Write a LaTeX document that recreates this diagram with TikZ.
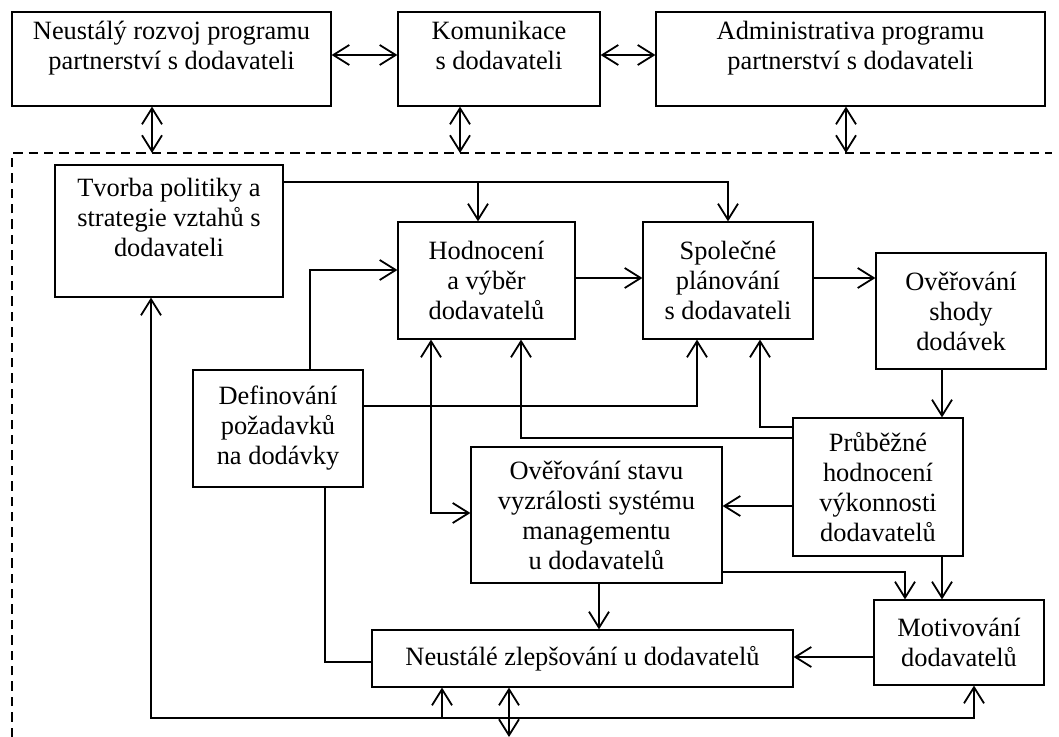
\documentclass[tikz,border=0pt]{standalone}
\usepackage{fontspec}
\setmainfont{Liberation Serif}
\usetikzlibrary{arrows.meta}
\newcommand{\toptext}[1]{\raisebox{2pt}[0pt][0pt]{\begin{tabular}{@{}c@{}}#1\end{tabular}}}

\begin{document}
\begin{tikzpicture}[
    x=0.5pt, y=-0.5pt,
    font=\fontsize{13.2}{15}\selectfont,
    box/.style 2 args={draw, line width=0.6pt, minimum width=#1, minimum height=#2, align=center, inner sep=2pt},
    arrow/.style={-{Straight Barb[length=8pt, width=10pt]}, line width=0.9pt},
    dblarrow/.style={{Straight Barb[length=8pt, width=10pt]}-{Straight Barb[length=8pt, width=10pt]}, line width=0.9pt},
    link/.style={line width=0.9pt},
    frame/.style={dash pattern=on 4.7pt off 3pt, line width=0.7pt}
]
    \useasboundingbox (0,0) rectangle (1059,737);

    % Program level
    \node[box={159.5pt}{47pt}] (rozvoj) at (171.5,59) {\toptext{Neustálý rozvoj programu\\partnerství s dodavateli}};
    \node[box={101pt}{47pt}] (komun) at (499,59) {\toptext{Komunikace\\s dodavateli}};
    \node[box={194.5pt}{47pt}] (admin) at (850.5,59) {\toptext{Administrativa programu\\partnerství s dodavateli}};

    % Dashed frame
    \coordinate (frameL) at (12,737);
    \coordinate (frameTL) at (12,153);
    \coordinate (frameTR) at (1052,153);
    \coordinate (outB) at (509,737);
    \draw[frame] (frameL) -- (frameTL) -- (frameTR);

    % Supplier management level
    \node[box={114pt}{66pt}] (tvorba) at (169,231) {\toptext{Tvorba politiky a\\strategie vztahů s\\dodavateli}};
    \node[box={88.5pt}{58.5pt}] (hodn) at (486.5,280.5) {Hodnocení\\a výběr\\dodavatelů};
    \node[box={85pt}{58.5pt}] (plan) at (728,280.5) {Společné\\plánování\\s dodavateli};
    \node[box={85pt}{58pt}] (shoda) at (961,311) {Ověřování\\shody\\dodávek};
    \node[box={85pt}{58.5pt}] (defin) at (278,428.5) {Definování\\požadavků\\na dodávky};
    \node[box={125.5pt}{68pt}] (stav) at (596.5,515) {Ověřování stavu\\vyzrálosti systému\\managementu\\u dodavatelů};
    \node[box={85pt}{69pt}] (prub) at (878,487) {Průběžné\\hodnocení\\výkonnosti\\dodavatelů};
    \node[box={85pt}{42.5pt}] (motiv) at (959,642.5) {Motivování\\dodavatelů};
    \node[box={210.5pt}{28.5pt}] (zlep) at (582.5,658.5) {Neustálé zlepšování u dodavatelů};

    % Arrows - program level
    \draw[dblarrow] (rozvoj.east |- 0,55) -- (komun.west |- 0,55);
    \draw[dblarrow] (komun.east |- 0,55) -- (admin.west |- 0,55);
    \draw[dblarrow] (rozvoj.south -| 152,0) -- (frameTL -| 152,0);
    \draw[dblarrow] (komun.south -| 460,0) -- (frameTL -| 460,0);
    \draw[dblarrow] (admin.south -| 846,0) -- (frameTL -| 846,0);

    % Arrows - selection and planning
    \draw[arrow] (tvorba.east |- 0,182) -| (hodn.north -| 478,0);
    \draw[arrow] (tvorba.east |- 0,182) -| (plan.north);
    \draw[arrow] (defin.north -| 310,0) |- (hodn.west |- 0,270);
    \draw[arrow] (hodn.east |- 0,278) -- (plan.west |- 0,278);
    \draw[arrow] (plan.east |- 0,278) -- (shoda.west |- 0,278);
    \draw[arrow] (defin.east |- 0,406) -| (plan.south -| 697,0);

    % Arrows - performance feedback
    \draw[arrow] (shoda.south -| 942,0) -- (prub.north -| 942,0);
    \draw[arrow] (prub.west |- 0,427) -| (plan.south -| 760,0);
    \draw[arrow] (prub.west |- 0,438) -| (hodn.south -| 521,0);
    \draw[dblarrow] (hodn.south -| 431,0) |- (stav.west |- 0,513);
    \draw[arrow] (prub.west |- 0,506) -- (stav.east |- 0,506);
    \draw[arrow] (stav.east |- 0,572) -| (motiv.north -| 905,0);
    \draw[arrow] (prub.south -| 942,0) -- (motiv.north -| 942,0);
    \draw[arrow] (stav.south -| 599,0) -- (zlep.north -| 599,0);
    \draw[arrow] (motiv.west |- 0,657) -- (zlep.east |- 0,657);
    \draw[link] (defin.south -| 325,0) |- (zlep.west |- 0,662);

    % Bottom loop
    \draw[dblarrow] (tvorba.south -| 151,0) -- (151,718) -| (motiv.south -| 974,0);
    \draw[arrow] (442,718) -- (zlep.south -| 442,0);
    \draw[dblarrow] (zlep.south -| 509,0) -- (outB);

\end{tikzpicture}
\end{document}
